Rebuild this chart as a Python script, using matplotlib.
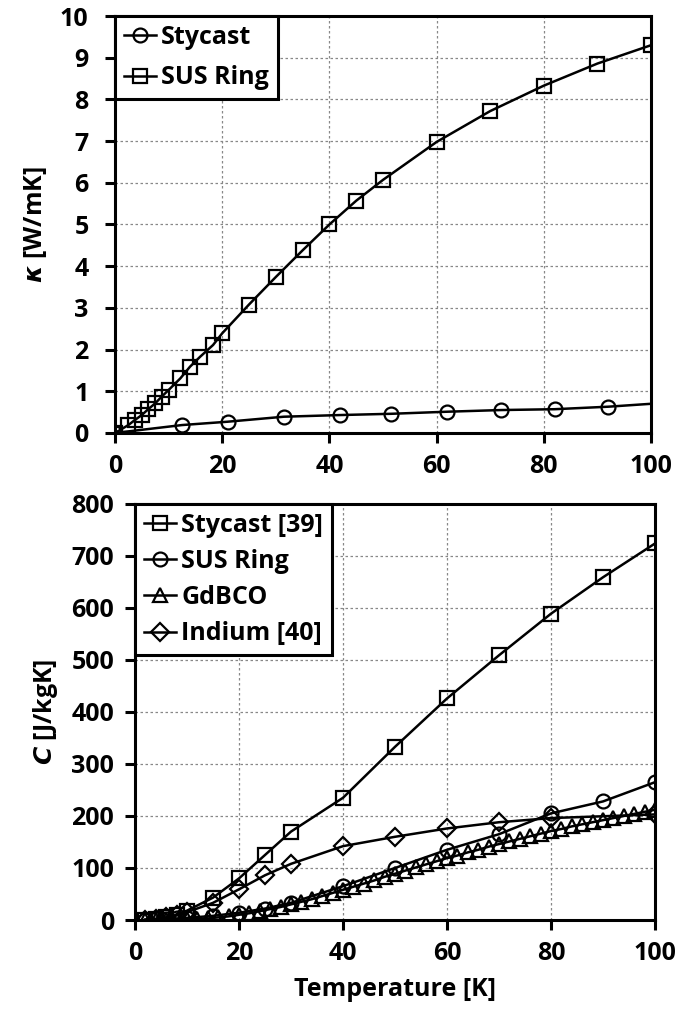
import matplotlib.pyplot as plt

plt.rcParams['font.family'] = ['Open Sans', 'DejaVu Sans']
plt.rcParams['font.weight'] = 'bold'
plt.rcParams['axes.labelweight'] = 'bold'
plt.rcParams['mathtext.fontset'] = 'dejavusans'

# --- thermal conductivity (top) ---
t_sty_k = [0, 12.5, 21, 31.5, 42, 51.5, 62, 72, 82, 92, 100]
k_sty = [0, 0.19, 0.27, 0.39, 0.43, 0.46, 0.51, 0.55, 0.57, 0.63, 0.70]
t_sus_k = [0, 2.5, 3.7, 5, 6.2, 7.5, 8.7, 10, 12.2, 14, 15.9, 18.3, 20,
           25, 30, 35, 40, 45, 50, 60, 70, 80, 90, 100]
k_sus = [0, 0.19, 0.31, 0.43, 0.57, 0.71, 0.87, 1.03, 1.31, 1.59, 1.83, 2.11, 2.39,
         3.08, 3.74, 4.38, 5.0, 5.57, 6.07, 6.98, 7.72, 8.33, 8.86, 9.3]

# --- specific heat (bottom) ---
t_c = [2, 4, 6, 8, 10, 15, 20, 25, 30, 40, 50, 60, 70, 80, 90, 100]
c_sty = [0.5, 2, 5, 10, 18, 43, 80, 125, 170, 235, 333, 426, 509, 589, 659, 724]
c_sus = [0, 1, 2, 3, 4, 8, 14, 22, 33, 65, 100, 135, 165, 205, 228, 265]
t_in = [2, 4, 6, 8, 10, 15, 20, 25, 30, 40, 50, 60, 70, 80, 100]
c_in = [0.5, 2, 5, 9, 15, 33, 59, 86, 108, 142, 160, 176, 188, 196, 203]
t_gd = [2, 4, 6, 8, 10, 12, 14, 16, 18, 20, 22, 24, 26, 28, 30, 32, 34, 36, 38, 40,
        42, 44, 46, 48, 50, 52, 54, 56, 58, 60, 62, 64, 66, 68, 70, 72, 74, 76, 78, 80,
        82, 84, 86, 88, 90, 92, 94, 96, 98, 100]
c_gd = [0, 0, 0, 0, 1, 2, 3, 5, 7, 10, 13, 17, 21, 25, 30, 35, 40, 46, 52, 58,
        64, 70, 76, 83, 89, 95, 101, 107, 113, 119, 124, 130, 135, 141, 146, 151, 156, 161, 166, 171,
        175, 180, 184, 188, 192, 196, 200, 204, 208, 212]

fig = plt.figure(figsize=(6.86, 10.14), dpi=100)
ax1 = fig.add_axes([0.1676, 0.573, 0.7814, 0.4112])
ax2 = fig.add_axes([0.1968, 0.0927, 0.7580, 0.4103])

lw = 1.8
mk = dict(fillstyle='none', markersize=10, markeredgewidth=1.6, color='black', linewidth=lw)

ax1.plot(t_sty_k, k_sty, marker='o', markevery=list(range(len(t_sty_k) - 1)), label='Stycast', **mk)
ax1.plot(t_sus_k, k_sus, marker='s', label='SUS Ring', **mk)

ax2.plot(t_c, c_sty, marker='s', label='Stycast [39]', **mk)
ax2.plot(t_c, c_sus, marker='o', label='SUS Ring', **mk)
ax2.plot(t_gd, c_gd, marker='^', label='GdBCO', **mk)
ax2.plot(t_in, c_in, marker='D', label='Indium [40]', **dict(mk, markersize=9))

for ax, ls, ypad in ((ax1, 0.62, 12), (ax2, 0.45, 8)):
    ax.set_xlim(0, 100)
    ax.set_xticks([0, 20, 40, 60, 80, 100])
    ax.grid(True, color='#888888', linestyle=(0, (2, 2)), linewidth=0.9)
    for s in ax.spines.values():
        s.set_linewidth(2.2)
    ax.tick_params(direction='out', length=7, width=2.2, labelsize=18)
    ax.tick_params(axis='x', pad=8)
    ax.tick_params(axis='y', pad=ypad)
    leg = ax.legend(loc='upper left', borderaxespad=0, handlelength=1.3, handletextpad=0.2,
                    fontsize=18, fancybox=False, edgecolor='black', framealpha=1,
                    borderpad=0.35, labelspacing=ls)
    leg.get_frame().set_linewidth(2.2)

ax1.set_ylim(0, 10)
ax1.set_yticks(range(0, 11))
ax1.set_ylabel(r'$\mathbfit{\kappa}$ [W/mK]', fontsize=18, labelpad=8)

ax2.set_ylim(0, 800)
ax2.set_yticks(range(0, 801, 100))
ax2.set_ylabel(r'$\mathbfit{C}$ [J/kgK]', fontsize=18, labelpad=8)
ax2.set_xlabel('Temperature [K]', fontsize=18, labelpad=8)

fig.savefig('out.png', dpi=100)
